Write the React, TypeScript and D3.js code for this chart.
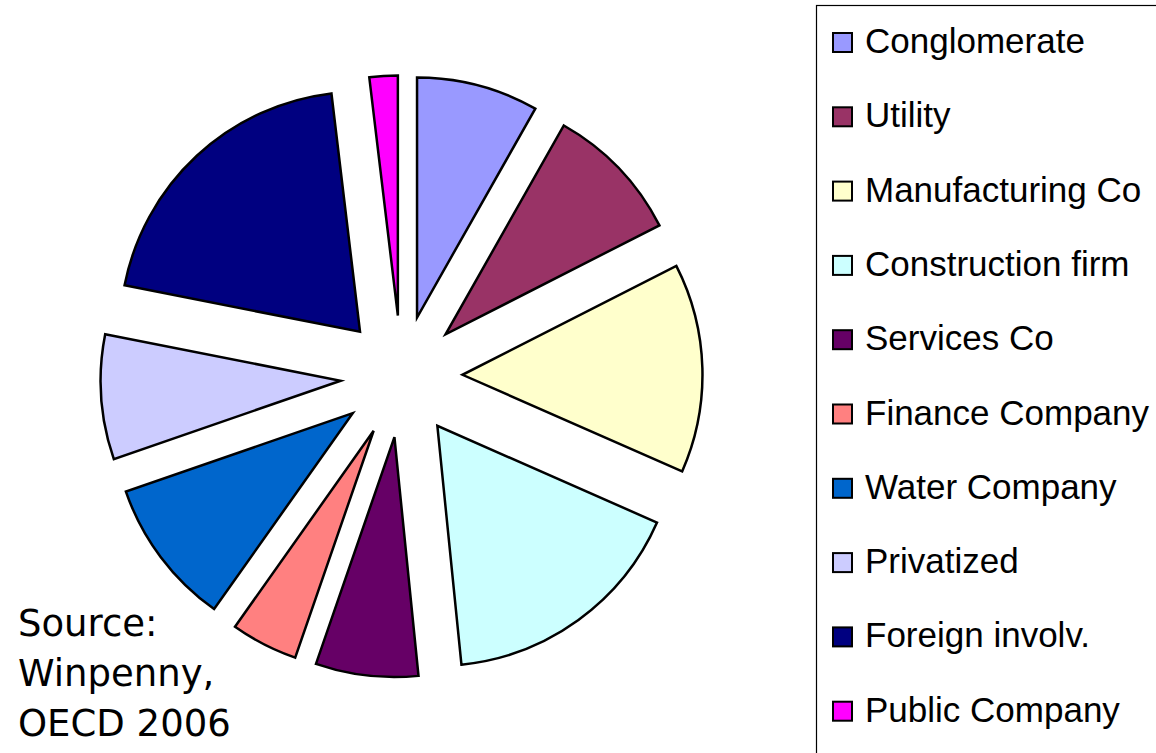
import React from "react";
import * as d3 from "d3";

const categories = [
  "Conglomerate",
  "Utility",
  "Manufacturing Co",
  "Construction firm",
  "Services Co",
  "Finance Company",
  "Water Company",
  "Privatized",
  "Foreign involv.",
  "Public Company",
];
// shares in percent
const shares = [8.2, 9.3, 14.1, 16.8, 6.9, 4.5, 9.9, 8.4, 20.0, 1.9];
const colors = [
  "#9999ff",
  "#993366",
  "#ffffcc",
  "#ccffff",
  "#660066",
  "#ff8080",
  "#0066cc",
  "#ccccff",
  "#000080",
  "#ff00ff",
];
const sourceLines = ["Source:", "Winpenny,", "OECD 2006"];

const W = 1156;
const H = 753;

export default function App() {
  const cx = 401.5;
  const cy = 376.5;
  const radius = 240;
  const explode = 61;

  const slices = d3
    .pie<number>()
    .sort(null)
    .value((d) => d)(shares);
  const arc = d3.arc<d3.PieArcDatum<number>>().innerRadius(0).outerRadius(radius);

  return (
    <svg
      width={W}
      height={H}
      style={{ position: "fixed", left: 0, top: 0, background: "#fff" }}
    >
      <g transform={`translate(${cx},${cy})`}>
        {slices.map((s, i) => {
          // push every slice out along its bisector
          const mid = (s.startAngle + s.endAngle) / 2;
          const dx = explode * Math.sin(mid);
          const dy = -explode * Math.cos(mid);
          return (
            <path
              key={categories[i]}
              d={arc(s) || ""}
              transform={`translate(${dx},${dy})`}
              fill={colors[i]}
              stroke="#000"
              strokeWidth={2.5}
              strokeLinejoin="miter"
            />
          );
        })}
      </g>

      {/* legend */}
      <rect x={816.5} y={5.5} width={400} height={800} fill="#fff" stroke="#000" strokeWidth={1.2} />
      {categories.map((c, i) => {
        const base = 53 + i * 74.3;
        return (
          <g key={c}>
            <rect x={833} y={base - 20} width={19} height={19} fill={colors[i]} stroke="#000" strokeWidth={2} />
            <text
              x={865}
              y={base}
              fontFamily="Liberation Sans, Arial, sans-serif"
              fontSize={35}
              fill="#000"
            >
              {c}
            </text>
          </g>
        );
      })}

      {/* source note */}
      {sourceLines.map((t, i) => (
        <text
          key={t}
          x={18}
          y={636 + i * 50}
          fontFamily="DejaVu Sans, sans-serif"
          fontSize={37}
          fill="#000"
        >
          {t}
        </text>
      ))}
    </svg>
  );
}
